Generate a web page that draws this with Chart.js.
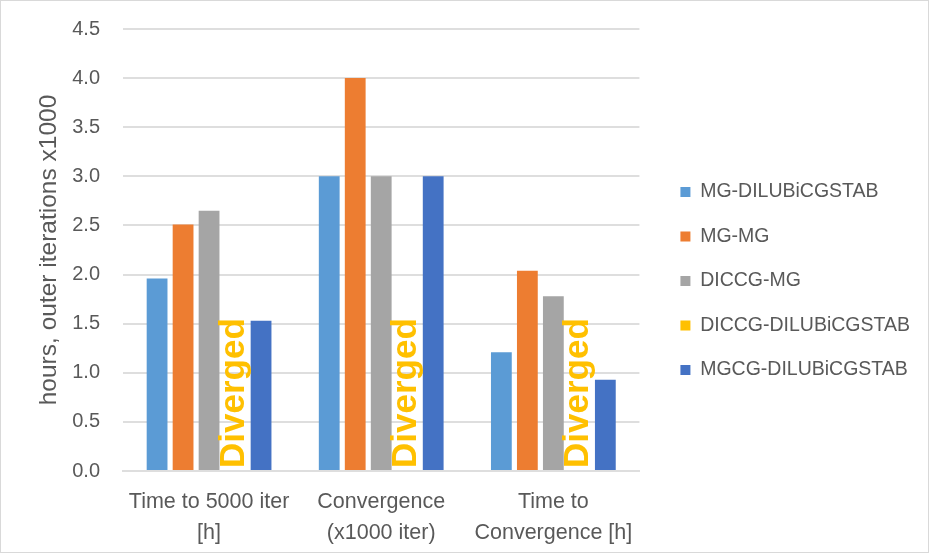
<!DOCTYPE html>
<html>
<head>
<meta charset="utf-8">
<script src="https://cdn.jsdelivr.net/npm/chart.js@4.4.1/dist/chart.umd.min.js"></script>
<style>
  html, body { margin: 0; padding: 0; background: #fff; }
  #wrap { width: 929px; height: 553px; box-sizing: border-box; border: 1px solid #d9d9d9; position: relative; }
  canvas { display: block; }
</style>
</head>
<body>
<div id="wrap"><canvas id="c"></canvas></div>
<script>
// ---- data ----
const categories = [
  ["Time to 5000 iter", "[h]"],
  ["Convergence", "(x1000 iter)"],
  ["Time to", "Convergence [h]"]
];
const seriesNames = ["MG-DILUBiCGSTAB", "MG-MG", "DICCG-MG", "DICCG-DILUBiCGSTAB", "MGCG-DILUBiCGSTAB"];
const mgDilu    = [1.96, 3.00, 1.21];
const mgMg      = [2.51, 4.00, 2.04];
const diccgMg   = [2.65, 3.00, 1.78];
const diccgDilu = [null, null, null];
const mgcgDilu  = [1.53, 3.00, 0.93];
const divergedNotes = ["Diverged", "Diverged", "Diverged"]; // annotation on DICCG-DILUBiCGSTAB
const yTicks = [0, 0.5, 1.0, 1.5, 2.0, 2.5, 3.0, 3.5, 4.0, 4.5];
const yTitle = "hours, outer iterations x1000";

const colors = ["#5B9BD5", "#ED7D31", "#A5A5A5", "#FFC000", "#4472C4"];
const seriesData = [mgDilu, mgMg, diccgMg, diccgDilu, mgcgDilu];
const textColor = "#595959";
const gridColor = "#dedede";
const FONT = "'Liberation Sans', Arial, sans-serif";

const divergedPlugin = {
  id: 'diverged',
  afterDatasetsDraw(chart) {
    const meta = chart.getDatasetMeta(3);
    const yScale = chart.scales.y;
    const ctx = chart.ctx;
    ctx.save();
    ctx.fillStyle = "#FFC000";
    ctx.font = "bold 35px " + FONT;
    ctx.textAlign = "left";
    ctx.textBaseline = "middle";
    divergedNotes.forEach((txt, i) => {
      if (!txt) return;
      const el = meta.data[i];
      let x = el ? el.x : NaN;
      if (!isFinite(x)) return;
      const y0 = yScale.getPixelForValue(0);
      ctx.save();
      ctx.translate(x - 1, y0 - 3);
      ctx.rotate(-Math.PI / 2);
      ctx.fillText(txt, 0, 0);
      ctx.restore();
    });
    ctx.restore();
  }
};

new Chart(document.getElementById('c'), {
  type: 'bar',
  data: {
    labels: categories,
    datasets: seriesNames.map((n, i) => ({
      label: n,
      data: seriesData[i],
      backgroundColor: colors[i],
      borderWidth: 0,
      xAxisID: 'x',
      yAxisID: 'y',
      categoryPercentage: 0.755,
      barPercentage: 0.8
    }))
  },
  options: {
    responsive: true,
    maintainAspectRatio: false,
    animation: false,
    devicePixelRatio: 1,
    layout: { padding: { left: 0, top: 14, right: 8, bottom: 5 } },
    plugins: {
      legend: {
        position: 'right',
        align: 'center',
        maxWidth: 320,
        labels: {
          boxWidth: 10,
          boxHeight: 10,
          padding: 25,
          color: textColor,
          font: { family: FONT, size: 19.5 }
        }
      },
      tooltip: { enabled: false }
    },
    scales: {
      x: {
        position: 'bottom',
        grid: { display: false, drawTicks: false },
        border: { display: true, color: gridColor, width: 2 },
        ticks: {
          color: textColor,
          padding: 16,
          maxRotation: 0,
          autoSkip: false,
          font: { family: FONT, size: 21.5, lineHeight: 1.44 }
        },
        afterFit(s) { s.height = 76; }
      },
      xTop: {
        type: 'category',
        position: 'top',
        display: true,
        grid: { display: false, drawTicks: false },
        border: { display: false },
        ticks: { display: false },
        afterFit(s) { s.height = 13; }
      },
      y: {
        min: 0,
        max: 4.5,
        afterBuildTicks(s) { s.ticks = yTicks.map(v => ({ value: v })); },
        grid: { color: gridColor, lineWidth: 2, drawTicks: false },
        border: { display: false },
        ticks: {
          color: textColor,
          padding: 23,
          font: { family: FONT, size: 20, lineHeight: 0.5 },
          callback: v => Number(v).toFixed(1)
        },
        title: {
          display: true,
          text: yTitle,
          color: textColor,
          font: { family: FONT, size: 24.5, weight: 'normal' },
          padding: { top: 34, bottom: 0 }
        },
        afterFit(s) { s.width = 122; }
      },
      yR: {
        position: 'right',
        display: true,
        grid: { display: false, drawTicks: false },
        border: { display: false },
        ticks: { display: false },
        afterFit(s) { s.width = 16; }
      }
    }
  },
  plugins: [divergedPlugin]
});
</script>
</body>
</html>
